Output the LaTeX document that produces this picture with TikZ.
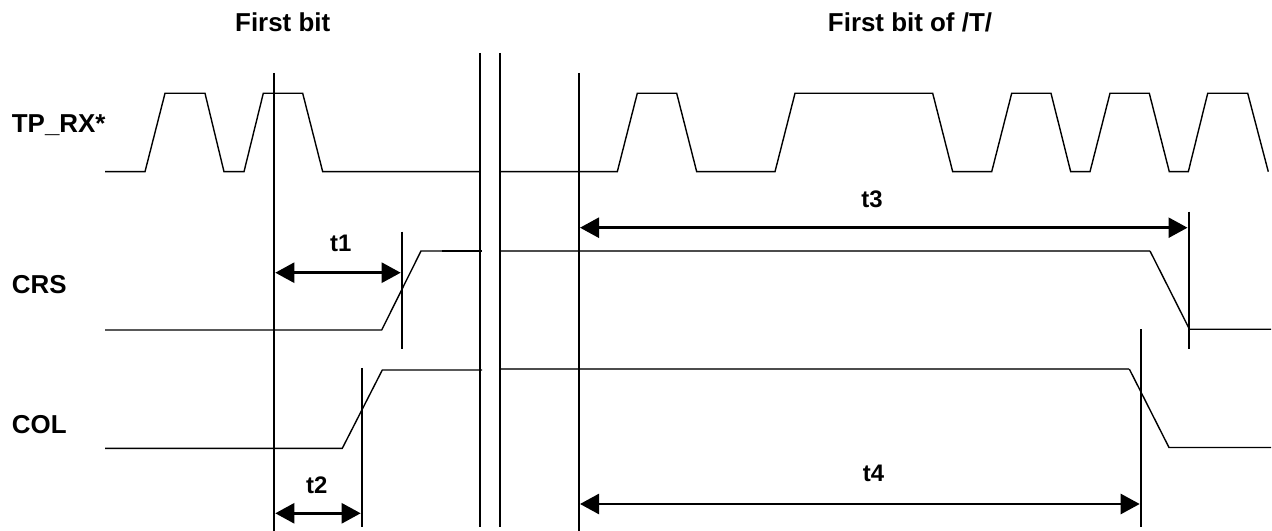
\documentclass[tikz,border=0pt]{standalone}
\usepackage{fontspec}
\setmainfont{Liberation Sans}
\usetikzlibrary{arrows.meta}
\begin{document}
\begin{tikzpicture}[x=1bp,y=-1bp,
  wave/.style={line width=1.4bp,line join=miter},
  hiwave/.style={line width=1.4bp,draw=black!70},
  marker/.style={line width=2bp},
  dim/.style={line width=2.6bp,{Triangle[length=19bp,width=20bp]}-{Triangle[length=19bp,width=20bp]}},
  lbl/.style={font=\fontsize{26}{31}\selectfont\bfseries,inner sep=0pt},
  tlbl/.style={font=\fontsize{24}{29}\selectfont\bfseries,inner sep=0pt}]
\useasboundingbox (0,0) rectangle (1272,531);
% titles
\node[lbl] (fb) at (282.7,22.7) {First bit};
\node[lbl] (fbt) at (910,22.5) {First bit of /T/};
\node[lbl,anchor=west] (ltp) at (11.7,125) {TP\_RX*};
\node[lbl,anchor=west] (lcrs) at (11.7,285) {CRS};
\node[lbl,anchor=west] (lcol) at (11.7,425) {COL};
% TP_RX*
\draw[wave] (105,171.7)--(145,171.7)--(165,93.3)--(205,93.3)--(224,171.7)--(244,171.7)--(263.3,93.3)--(302.7,93.3)--(322.7,171.7)--(480,171.7);
\draw[wave] (500,171.7)--(617.3,171.7)--(637.3,93.3)--(676.7,93.3)--(696.7,171.7)--(775,171.7)--(795,93.3)--(932.7,93.3)--(952.7,171.7)--(991.7,171.7)--(1011.7,93.3)--(1051,93.3)--(1070.7,171.7)--(1090,171.7)--(1110,93.3)--(1149.3,93.3)--(1169.3,171.7)--(1188.3,171.7)--(1207.7,93.3)--(1247.7,93.3)--(1268.3,171.7);
% CRS
\draw[wave] (105,330)--(381.7,330)--(421,251)--(442,251);
\draw[wave] (442,251)--(482,251);
\draw[hiwave] (500,251)--(1150,251);
\draw[wave] (1150,251)--(1189.5,329.3)--(1271,329.3);
% COL
\draw[wave] (105,448.3)--(342.3,448.3)--(382.3,370)--(482,370);
\draw[hiwave] (500,369)--(1129.3,369);
\draw[wave] (1129.3,369)--(1169,447.5)--(1271,447.5);
% vertical markers
\coordinate (v1t) at (274.3,73); \coordinate (v1b) at (274.3,531);
\coordinate (d1t) at (480,53); \coordinate (d1b) at (480,527);
\coordinate (d2t) at (500,53); \coordinate (d2b) at (500,527);
\coordinate (v2t) at (579,73); \coordinate (v2b) at (579,531);
\coordinate (m1t) at (401.7,231.7); \coordinate (m1b) at (401.7,349.3);
\coordinate (m2t) at (361.7,368); \coordinate (m2b) at (361.7,526.5);
\coordinate (m3t) at (1188.5,211.7); \coordinate (m3b) at (1188.5,349.3);
\coordinate (m4t) at (1140.7,329.3); \coordinate (m4b) at (1140.7,526.7);
\draw[marker] (v1t)--(v1b);
\draw[marker] (d1t)--(d1b);
\draw[marker] (d2t)--(d2b);
\draw[marker] (v2t)--(v2b);
\draw[marker] (m1t)--(m1b);
\draw[marker] (m2t)--(m2b);
\draw[marker] (m3t)--(m3b);
\draw[marker] (m4t)--(m4b);
% dimension arrows
\coordinate (a1l) at (275.3,272.7); \coordinate (a1r) at (400.7,272.7);
\coordinate (a2l) at (275.3,513.3); \coordinate (a2r) at (360.7,513.3);
\coordinate (a3l) at (580,227.7); \coordinate (a3r) at (1187.5,227.7);
\coordinate (a4l) at (580,504); \coordinate (a4r) at (1139.7,504);
\draw[dim] (a1l)--(a1r);
\draw[dim] (a2l)--(a2r);
\draw[dim] (a3l)--(a3r);
\draw[dim] (a4l)--(a4r);
\node[tlbl] (t1) at (340.7,243.3) {t1};
\node[tlbl] (t2) at (316.7,485) {t2};
\node[tlbl] (t3) at (872,199) {t3};
\node[tlbl] (t4) at (873.6,473) {t4};
\end{tikzpicture}
\end{document}
